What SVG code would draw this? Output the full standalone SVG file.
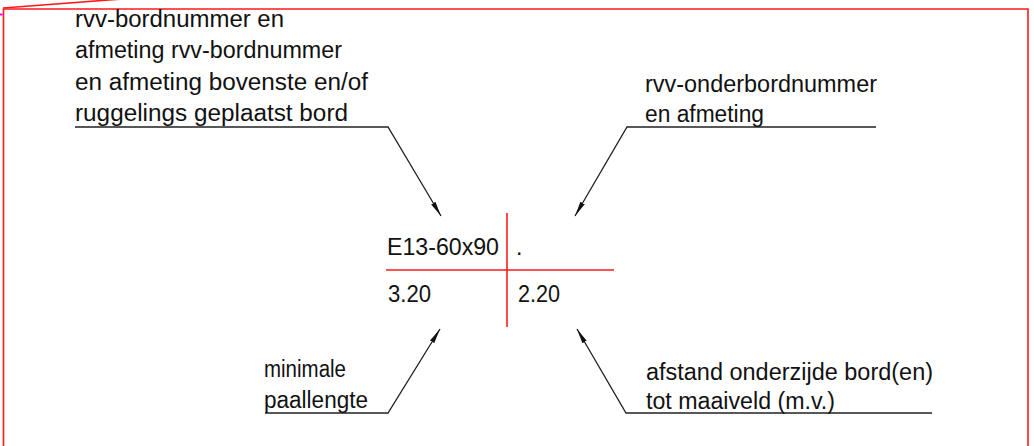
<svg xmlns="http://www.w3.org/2000/svg" width="1034" height="446" viewBox="0 0 1034 446">
<style>
.t{font-family:"Liberation Sans",Arial,sans-serif;font-size:23px;fill:#111;}
.ld{fill:none;stroke:#222;stroke-width:1.3;}
.red{fill:none;stroke:#ff1a1a;stroke-width:1.6;}
</style>
<defs>
<marker id="ah" viewBox="0 0 15 6" refX="15" refY="3" markerWidth="15" markerHeight="6" markerUnits="userSpaceOnUse" orient="auto">
<path d="M0,0.5 L15,3 L0,5.5 Z" fill="#111"/>
</marker>
</defs>
<rect width="1034" height="446" fill="#fff"/>
<g id="frame">
<polyline class="red" points="3.5,450 3.5,9 1028,9 1028,450"/>
<line class="red" x1="3" y1="8" x2="122" y2="-1"/>
<line x1="0" y1="14.5" x2="2.5" y2="14.5" stroke="#ff00ff" stroke-width="2"/>
</g>
<g id="sign-cross">
<line class="red" x1="507" y1="213" x2="507" y2="327"/>
<line class="red" x1="386" y1="270" x2="614" y2="270"/>
</g>
<g id="connectors">
<polyline class="ld" points="75,127 388,127 441,216" marker-end="url(#ah)"/>
<polyline class="ld" points="876,127 627,127 575,216" marker-end="url(#ah)"/>
<polyline class="ld" points="265,413 388,413 440,329" marker-end="url(#ah)"/>
<polyline class="ld" points="932,413 626,413 577,329" marker-end="url(#ah)"/>
</g>
<g id="label-top-left">
<text class="t" x="75" y="27" textLength="209" lengthAdjust="spacingAndGlyphs">rvv-bordnummer en</text>
<text class="t" x="75" y="58" textLength="267" lengthAdjust="spacingAndGlyphs">afmeting rvv-bordnummer</text>
<text class="t" x="75" y="90" textLength="293" lengthAdjust="spacingAndGlyphs">en afmeting bovenste en/of</text>
<text class="t" x="75" y="121" textLength="273" lengthAdjust="spacingAndGlyphs">ruggelings geplaatst bord</text>
</g>
<g id="label-top-right">
<text class="t" x="645" y="92" textLength="232" lengthAdjust="spacingAndGlyphs">rvv-onderbordnummer</text>
<text class="t" x="645" y="122" textLength="119" lengthAdjust="spacingAndGlyphs">en afmeting</text>
</g>
<g id="sign-values">
<text class="t" x="387" y="255" textLength="112" lengthAdjust="spacingAndGlyphs">E13-60x90</text>
<text class="t" x="516" y="255">.</text>
<text class="t" x="388" y="302" textLength="43" lengthAdjust="spacingAndGlyphs">3.20</text>
<text class="t" x="518" y="302" textLength="42" lengthAdjust="spacingAndGlyphs">2.20</text>
</g>
<g id="label-bottom-left">
<text class="t" x="264" y="377" textLength="82" lengthAdjust="spacingAndGlyphs">minimale</text>
<text class="t" x="264" y="408" textLength="104" lengthAdjust="spacingAndGlyphs">paallengte</text>
</g>
<g id="label-bottom-right">
<text class="t" x="646" y="380" textLength="287" lengthAdjust="spacingAndGlyphs">afstand onderzijde bord(en)</text>
<text class="t" x="646" y="409" textLength="189" lengthAdjust="spacingAndGlyphs">tot maaiveld (m.v.)</text>
</g>
</svg>
